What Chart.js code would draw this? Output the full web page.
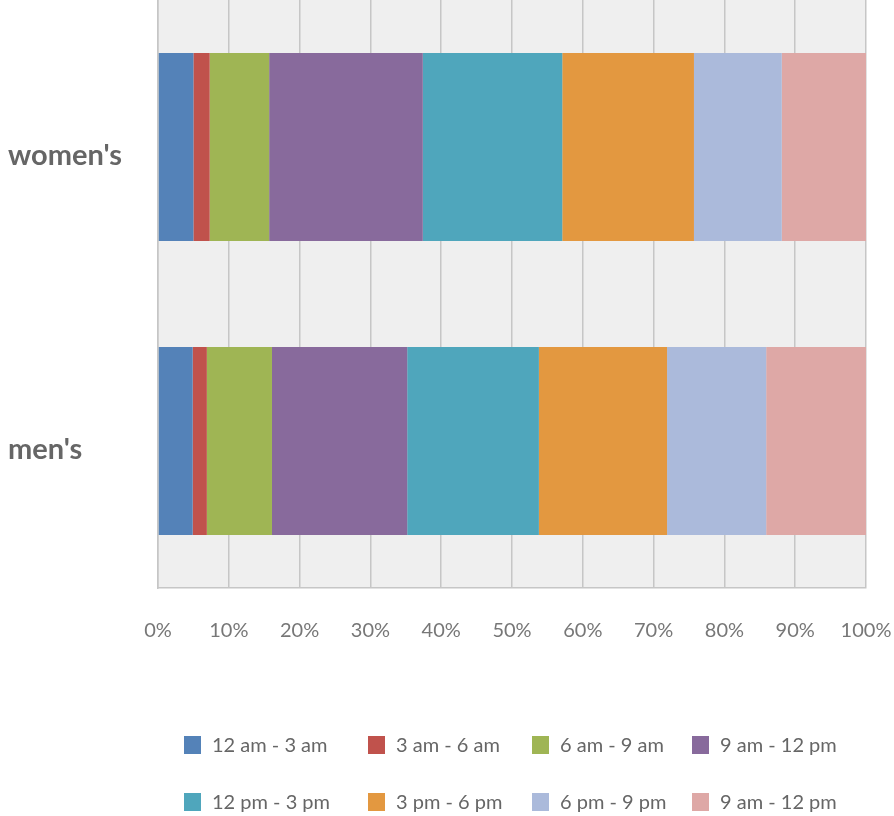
<!DOCTYPE html>
<html>
<head>
<meta charset="utf-8">
<script src="https://cdn.jsdelivr.net/npm/chart.js@4/dist/chart.umd.min.js"></script>
<style>
    html, body { margin: 0; padding: 0; background: #ffffff; }
    #wrap { position: relative; width: 894px; height: 816px; }
    #legend {
        position: absolute;
        left: 184px;
        top: 732px;
        display: grid;
        grid-template-columns: 184px 164px 160px 190px;
        grid-auto-rows: 57px;
        font-family: Lato, sans-serif;
        font-size: 20px;
        color: #666666;
    }
    .legend-item { display: flex; align-items: flex-start; }
    .legend-box { width: 17px; height: 18px; margin-right: 11px; margin-top: 4px; flex: none; }
</style>
</head>
<body>
<div id="wrap">
    <canvas id="chart" width="894" height="816"></canvas>
    <div id="legend"></div>
</div>
<script>
// Data
const categories = ["women's", "men's"];
const seriesLabels = ['12 am - 3 am', '3 am - 6 am', '6 am - 9 am', '9 am - 12 pm',
                      '12 pm - 3 pm', '3 pm - 6 pm', '6 pm - 9 pm', '9 am - 12 pm'];
const womenValues = [5.0, 2.3, 8.4, 21.7, 19.7, 18.6, 12.4, 11.9];
const menValues = [4.9, 2.0, 9.2, 19.1, 18.6, 18.1, 14.0, 14.1];
const xTicks = [0, 10, 20, 30, 40, 50, 60, 70, 80, 90, 100];

const colors = ['#5482b8', '#c0524c', '#9fb554', '#886a9c',
                '#4fa6bc', '#e39840', '#abbadb', '#dea8a6'];

// Plot background
const plotBackground = {
    id: 'plotBackground',
    beforeDraw(chart) {
        const { ctx, chartArea } = chart;
        ctx.save();
        ctx.fillStyle = '#efefef';
        ctx.fillRect(chartArea.left, chartArea.top, chartArea.width, chartArea.height);
        ctx.restore();
    }
};

const datasets = seriesLabels.map((label, i) => ({
    label: label,
    data: [womenValues[i], menValues[i]],
    backgroundColor: colors[i],
    borderWidth: 0,
    barPercentage: 0.8,
    categoryPercentage: 0.8
}));

const chart = new Chart(document.getElementById('chart'), {
    type: 'bar',
    data: { labels: categories, datasets: datasets },
    options: {
        indexAxis: 'y',
        responsive: false,
        animation: false,
        layout: { padding: { left: 8, right: 28, top: 0, bottom: 142 } },
        plugins: {
            legend: { display: false },
            tooltip: { enabled: false }
        },
        scales: {
            x: {
                stacked: true,
                min: 0,
                max: 100,
                afterBuildTicks: (scale) => {
                    scale.ticks = xTicks.map(v => ({ value: v }));
                },
                afterFit: (scale) => {
                    scale.paddingLeft = 0;
                    scale.paddingRight = 0;
                },
                ticks: {
                    padding: 31,
                    color: '#777777',
                    font: { family: 'Lato', size: 20 },
                    callback: (v) => v + '%'
                },
                grid: { color: '#c6c6c6', lineWidth: 1.5, drawTicks: false },
                border: { display: true, color: '#c6c6c6', width: 1.5 }
            },
            y: {
                stacked: true,
                afterFit: (scale) => {
                    scale.width = 150;
                    scale.paddingTop = 0;
                    scale.paddingBottom = 0;
                },
                ticks: {
                    crossAlign: 'far',
                    labelOffset: 9,
                    color: '#666666',
                    font: { family: 'Lato', size: 29, weight: 'bold' }
                },
                grid: { display: false, drawTicks: false },
                border: { display: true, color: '#c6c6c6', width: 1.5 }
            }
        }
    },
    plugins: [plotBackground]
});

// HTML legend built from the chart datasets
const legendEl = document.getElementById('legend');
chart.data.datasets.forEach(ds => {
    const item = document.createElement('div');
    item.className = 'legend-item';
    const box = document.createElement('span');
    box.className = 'legend-box';
    box.style.background = ds.backgroundColor;
    const text = document.createElement('span');
    text.textContent = ds.label;
    item.appendChild(box);
    item.appendChild(text);
    legendEl.appendChild(item);
});
</script>
</body>
</html>
